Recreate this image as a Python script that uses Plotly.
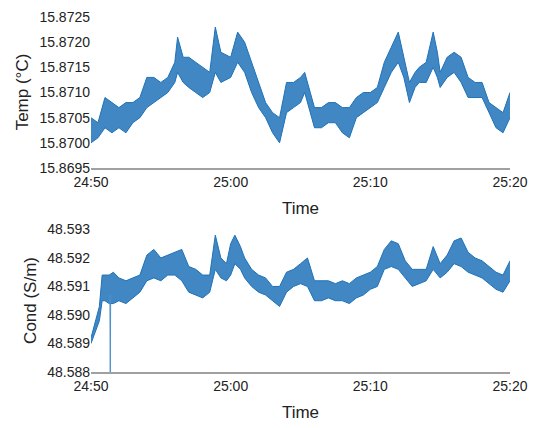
import plotly.graph_objects as go
from plotly.subplots import make_subplots

# minutes after 24:50, with low/high of the noisy band
temp_t = [0, 0.5, 1, 1.5, 2, 2.5, 3, 3.5, 4, 4.5, 5, 5.5, 6, 6.2, 6.6, 7, 7.5, 8, 8.5, 8.9, 9.3, 10, 10.5, 11, 11.5, 12, 12.5,
          13, 13.5, 14, 14.5, 15, 15.3, 15.7, 16, 16.5, 17, 17.5, 18, 18.5, 19, 19.5, 20, 20.5, 21, 21.5, 22, 22.4,
          22.8, 23.2, 23.5, 24, 24.5, 24.8, 25, 25.5, 26, 26.5, 27, 27.5, 28, 28.5, 29, 29.5, 30]
temp_lo = [15.8700, 15.8701, 15.8703, 15.8702, 15.8703, 15.8702, 15.8704, 15.8705, 15.8707, 15.8708, 15.8709, 15.8710,
           15.8712, 15.8714, 15.8712, 15.8711, 15.8710, 15.8709, 15.8710, 15.8714, 15.8712, 15.8713, 15.8716, 15.8714,
           15.8710, 15.8707, 15.8705, 15.8702, 15.8700, 15.8706, 15.8707, 15.8708, 15.8710, 15.8706, 15.8703, 15.8703,
           15.8704, 15.8704, 15.8702, 15.8701, 15.8705, 15.8706, 15.8707, 15.8708, 15.8711, 15.8714, 15.8716, 15.8713,
           15.8708, 15.8711, 15.8712, 15.8712, 15.8715, 15.8713, 15.8711, 15.8713, 15.8714, 15.8712, 15.8709, 15.8709,
           15.8709, 15.8706, 15.8703, 15.8702, 15.8705]
temp_hi = [15.8705, 15.8704, 15.8709, 15.8708, 15.8707, 15.8708, 15.8708, 15.8709, 15.8713, 15.8713, 15.8712, 15.8713,
           15.8716, 15.8721, 15.8717, 15.8717, 15.8716, 15.8715, 15.8714, 15.8723, 15.8718, 15.8717, 15.8722, 15.8720,
           15.8716, 15.8712, 15.8708, 15.8706, 15.8705, 15.8712, 15.8712, 15.8713, 15.8714, 15.8710, 15.8707, 15.8707,
           15.8708, 15.8708, 15.8707, 15.8707, 15.8709, 15.8710, 15.8710, 15.8711, 15.8716, 15.8719, 15.8722, 15.8717,
           15.8712, 15.8714, 15.8715, 15.8716, 15.8722, 15.8718, 15.8714, 15.8717, 15.8718, 15.8717, 15.8713, 15.8712,
           15.8712, 15.8708, 15.8707, 15.8706, 15.8710]

cond_t = [0, 0.3, 0.6, 0.8, 1.0, 1.3, 1.6, 2, 2.5, 3, 3.5, 4, 4.5, 5, 5.5, 6, 6.5, 7, 7.5, 8, 8.5, 8.9, 9.3, 9.7, 10, 10.3,
          10.7, 11, 11.5, 12, 12.5, 13, 13.5, 14, 14.5, 15, 15.5, 16, 16.5, 17, 17.5, 18, 18.5, 19, 19.5, 20, 20.5, 21,
          21.5, 22, 22.5, 23, 23.5, 24, 24.5, 25, 25.5, 26, 26.5, 27, 27.5, 28, 28.5, 29, 29.5, 30]
cond_lo = [48.5890, 48.5894, 48.5898, 48.5905, 48.5905, 48.5904, 48.5904, 48.5905, 48.5904, 48.5906, 48.5908, 48.5912,
           48.5913, 48.5912, 48.5914, 48.5914, 48.5912, 48.5908, 48.5907, 48.5906, 48.5908, 48.5916, 48.5913, 48.5912,
           48.5914, 48.5918, 48.5916, 48.5913, 48.5910, 48.5908, 48.5907, 48.5905, 48.5903, 48.5908, 48.5910, 48.5911,
           48.5910, 48.5905, 48.5905, 48.5906, 48.5905, 48.5905, 48.5904, 48.5906, 48.5907, 48.5909, 48.5910, 48.5916,
           48.5917, 48.5916, 48.5913, 48.5910, 48.5911, 48.5912, 48.5916, 48.5913, 48.5915, 48.5918, 48.5917, 48.5915,
           48.5914, 48.5913, 48.5911, 48.5909, 48.5908, 48.5912]
cond_hi = [48.5892, 48.5898, 48.5903, 48.5914, 48.5914, 48.5914, 48.5915, 48.5913, 48.5912, 48.5913, 48.5914, 48.5921,
           48.5923, 48.5920, 48.5921, 48.5922, 48.5923, 48.5917, 48.5916, 48.5914, 48.5914, 48.5928, 48.5920, 48.5918,
           48.5925, 48.5928, 48.5924, 48.5920, 48.5916, 48.5914, 48.5913, 48.5910, 48.5910, 48.5915, 48.5916, 48.5918,
           48.5920, 48.5912, 48.5912, 48.5912, 48.5911, 48.5912, 48.5911, 48.5913, 48.5914, 48.5915, 48.5917, 48.5923,
           48.5926, 48.5925, 48.5919, 48.5916, 48.5916, 48.5916, 48.5924, 48.5918, 48.5921, 48.5926, 48.5927, 48.5922,
           48.5920, 48.5919, 48.5917, 48.5915, 48.5914, 48.5919]

spike_t = [1.35, 1.38, 1.41]
spike_v = [48.5907, 48.5880, 48.5907]

tick_vals = [0, 10, 20, 30]
tick_text = ["24:50", "25:00", "25:10", "25:20"]

col = "#1f72b8"
fig = make_subplots(rows=2, cols=1)


def add_band(t, lo, hi, row):
    fig.add_trace(go.Scatter(x=t, y=lo, mode="lines", line=dict(color=col, width=1)), row=row, col=1)
    fig.add_trace(go.Scatter(x=t, y=hi, mode="lines", line=dict(color=col, width=1),
                             fill="tonexty", fillcolor="rgba(31,114,184,0.85)"), row=row, col=1)


add_band(temp_t, temp_lo, temp_hi, 1)
add_band(cond_t, cond_lo, cond_hi, 2)
fig.add_trace(go.Scatter(x=spike_t, y=spike_v, mode="lines", line=dict(color="#4a90cc", width=1)), row=2, col=1)

for r in (1, 2):
    fig.update_xaxes(range=[0, 30], tickvals=tick_vals, ticktext=tick_text, showgrid=False, zeroline=False,
                     showline=True, linecolor="#a0a0a0", linewidth=1.5, ticks="", automargin=False,
                     title_text="Time", title_font=dict(size=17), title_standoff=14, row=r, col=1)
fig.update_yaxes(range=[15.8695, 15.87252], tickvals=[15.8695, 15.87, 15.8705, 15.871, 15.8715, 15.872, 15.8725],
                 tickformat=".4f", title_text="Temp (°C)", domain=[0.573, 1], row=1, col=1)
fig.update_yaxes(range=[48.588, 48.59302], tickvals=[48.588, 48.589, 48.59, 48.591, 48.592, 48.593],
                 tickformat=".3f", title_text="Cond (S/m)", domain=[0, 0.402], row=2, col=1)
fig.update_yaxes(showgrid=False, zeroline=False, showline=False, ticks="", automargin=False,
                 title_font=dict(size=17), title_standoff=6)

fig.update_layout(width=550, height=428, showlegend=False, plot_bgcolor="white", paper_bgcolor="white",
                  margin=dict(l=83, r=48, t=8, b=64),
                  font=dict(family="Liberation Sans, Arial", size=14, color="#222"))
fig.write_html("out.html")
